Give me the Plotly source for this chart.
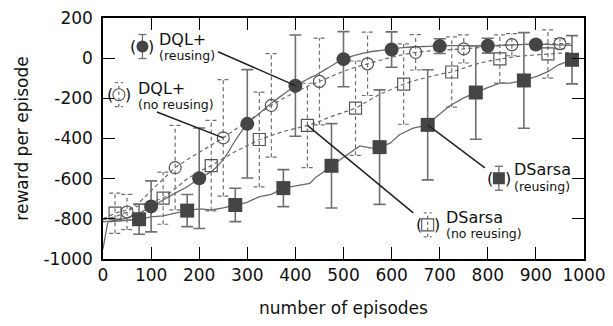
import plotly.graph_objects as go

# ---------------- data ----------------
# DQL+ (reusing): filled circles, solid error bars
dqlr_x = [100, 200, 300, 400, 500, 600, 700, 800, 900]
dqlr_y = [-738, -598, -327, -137, -5, 43, 60, 62, 68]
dqlr_e = [127, 250, 270, 252, 137, 88, 37, 37, 15]

# DQL+ (no reusing): open circles, dashed error bars
dqln_x = [50, 150, 250, 350, 450, 550, 650, 750, 850, 950]
dqln_y = [-766, -545, -397, -235, -116, -28, 29, 46, 67, 72]
dqln_e = [88, 210, 290, 258, 216, 158, 88, 70, 55, 25]

# DSarsa (reusing): filled squares, solid error bars
dsr_x = [75, 175, 275, 375, 475, 575, 675, 775, 875, 975]
dsr_y = [-802, -759, -731, -647, -536, -443, -332, -171, -111, -8]
dsr_e = [75, 80, 83, 92, 210, 285, 274, 233, 238, 120]

# DSarsa (no reusing): open squares, dashed error bars
dsn_x = [25, 125, 225, 325, 425, 525, 625, 725, 825, 925]
dsn_y = [-772, -697, -535, -405, -335, -249, -129, -69, -4, 21]
dsn_e = [100, 130, 225, 236, 210, 235, 200, 175, 120, 120]

# smoothed learning curves
dqlr_cx = [0, 25, 50, 75, 100, 125, 150, 175, 200, 225, 250, 275, 300, 325, 350, 375,
           400, 425, 450, 475, 500, 525, 550, 575, 600, 625, 650, 675, 700, 750, 800,
           850, 900, 950, 975]
dqlr_cy = [-815, -808, -795, -772, -740, -706, -672, -640, -598, -565, -505, -410, -327,
           -275, -225, -180, -137, -105, -74, -38, -4, 15, 29, 38, 45, 52, 56, 59, 62, 62,
           62, 66, 70, 66, 64]

dqln_cx = [0, 25, 50, 75, 100, 125, 150, 175, 200, 225, 250, 275, 300, 325, 350, 375,
           400, 425, 450, 475, 500, 525, 550, 575, 600, 625, 650, 675, 700, 725, 750,
           800, 850, 900, 950, 975]
dqln_cy = [-805, -790, -766, -720, -660, -600, -545, -505, -470, -435, -397, -355, -315,
           -275, -235, -200, -170, -140, -116, -90, -65, -45, -28, -12, 5, 18, 29, 35, 40,
           43, 46, 55, 67, 70, 72, 73]

dsr_cx = [0, 10, 25, 50, 75, 100, 125, 150, 175, 200, 225, 250, 275, 298, 326, 350, 375,
          410, 430, 444, 455, 475, 493, 514, 534, 558, 575, 597, 617, 645, 675, 694, 721,
          749, 775, 797, 825, 846, 875, 902, 926, 947, 975, 988]
dsr_cy = [-950, -815, -812, -808, -802, -790, -785, -772, -759, -750, -756, -745, -731,
          -719, -689, -678, -647, -631, -623, -590, -573, -536, -506, -473, -437, -448,
          -443, -423, -380, -348, -332, -290, -237, -199, -171, -149, -124, -124, -111,
          -91, -66, -33, -8, 0]

dsn_cx = [0, 25, 50, 75, 100, 125, 150, 175, 200, 225, 250, 275, 300, 325, 350, 375, 400,
          425, 450, 475, 500, 525, 550, 575, 600, 625, 650, 675, 700, 725, 750, 775, 800,
          825, 850, 875, 900, 925, 950, 975]
dsn_cy = [-800, -772, -755, -735, -715, -697, -650, -600, -565, -535, -500, -465, -435,
          -405, -385, -365, -350, -335, -315, -290, -270, -249, -215, -180, -155, -129,
          -110, -95, -80, -69, -50, -30, -15, -4, 5, 12, 17, 21, 25, 28]

x_ticks = [0, 100, 200, 300, 400, 500, 600, 700, 800, 900, 1000]
x_labels = ["0", "100", "200", "300", "400", "500", "600", "700", "800", "900", "1000"]
y_ticks = [-1000, -800, -600, -400, -200, 0, 200]
y_labels = ["-1000", "-800", "-600", "-400", "-200", "0", "200"]

# ---------------- style ----------------
FONT = "DejaVu Sans"
DARK = "#454545"
GREY = "#707070"
LINE = "#6a6a6a"
CAP = 12  # half-width of dashed caps in data units (~6 px)

fig = go.Figure()


def dashed_err(xs, ys, es):
    px, py = [], []
    for x, y, e in zip(xs, ys, es):
        px += [x, x, None, x - CAP, x + CAP, None, x - CAP, x + CAP, None]
        py += [y - e, y + e, None, y + e, y + e, None, y - e, y - e, None]
    return px, py


# curves
fig.add_trace(go.Scatter(x=dsr_cx, y=dsr_cy, mode="lines",
                         line=dict(color=LINE, width=1.3), hoverinfo="skip"))
fig.add_trace(go.Scatter(x=dqlr_cx, y=dqlr_cy, mode="lines", line_shape="spline",
                         line=dict(color=LINE, width=1.3), hoverinfo="skip"))
fig.add_trace(go.Scatter(x=dsn_cx, y=dsn_cy, mode="lines",
                         line=dict(color=LINE, width=1.2, dash="4px,3px"), hoverinfo="skip"))
fig.add_trace(go.Scatter(x=dqln_cx, y=dqln_cy, mode="lines",
                         line=dict(color=LINE, width=1.2, dash="4px,3px"), hoverinfo="skip"))

# dashed error bars
for xs, ys, es in [(dsn_x, dsn_y, dsn_e), (dqln_x, dqln_y, dqln_e)]:
    ex, ey = dashed_err(xs, ys, es)
    fig.add_trace(go.Scatter(x=ex, y=ey, mode="lines",
                             line=dict(color=GREY, width=1.2, dash="4px,3px"), hoverinfo="skip"))

# open markers
fig.add_trace(go.Scatter(x=dsn_x, y=dsn_y, mode="markers",
                         marker=dict(symbol="square-open", size=12, color="#555",
                                     line=dict(width=1.2, color="#555"))))
fig.add_trace(go.Scatter(x=dqln_x, y=dqln_y, mode="markers",
                         marker=dict(symbol="circle-open", size=12, color="#555",
                                     line=dict(width=1.2, color="#555"))))

# filled markers with solid error bars
fig.add_trace(go.Scatter(x=dsr_x, y=dsr_y, mode="markers",
                         error_y=dict(type="data", array=dsr_e, color=GREY, thickness=1.6, width=6),
                         marker=dict(symbol="square", size=14, color=DARK)))
fig.add_trace(go.Scatter(x=dqlr_x, y=dqlr_y, mode="markers",
                         error_y=dict(type="data", array=dqlr_e, color=GREY, thickness=1.6, width=6),
                         marker=dict(symbol="circle", size=14, color=DARK)))

# ---------------- labels ----------------
shapes = []
annotations = []

leaders = [
    (dqlr_x[3], dqlr_y[3], 239, 32),
    (dqln_x[2], dqln_y[2], 112, -268),
    (dsr_x[6], dsr_y[6], 794, -546),
    (dsn_x[4], dsn_y[4], 645, -770),
]
for x0, y0, x1, y1 in leaders:
    shapes.append(dict(type="line", xref="x", yref="y", x0=x0, y0=y0, x1=x1, y1=y1,
                       line=dict(color="#222", width=1.5), layer="above"))

labels = [
    # key x, key y, kind, filled, name, sub, text x, name y, sub y
    (82, 58, "circle", True, "DQL+", "(reusing)", 114, 94, 15),
    (33, -182, "circle", False, "DQL+", "(no reusing)", 71, -153, -232),
    (823, -598, "rect", True, "DSarsa", "(reusing)", 852, -554, -638),
    (675, -830, "rect", False, "DSarsa", "(no reusing)", 711, -791, -871),
]
for kx, ky, kind, filled, name, sub, tx, ny, sy in labels:
    dash = "solid" if filled else "dot"
    col = GREY
    shapes.append(dict(type="line", xref="x", yref="y", xsizemode="pixel", ysizemode="pixel",
                       xanchor=kx, yanchor=ky, x0=0, x1=0, y0=-12, y1=12,
                       line=dict(color=col, width=1.3, dash=dash)))
    for yy in (-12, 12):
        shapes.append(dict(type="line", xref="x", yref="y", xsizemode="pixel", ysizemode="pixel",
                           xanchor=kx, yanchor=ky, x0=-4, x1=4, y0=yy, y1=yy,
                           line=dict(color=col, width=1.3, dash=dash)))
    r = 6
    shapes.append(dict(type=kind, xref="x", yref="y", xsizemode="pixel", ysizemode="pixel",
                       xanchor=kx, yanchor=ky, x0=-r, x1=r, y0=-r, y1=r,
                       fillcolor=DARK if filled else "rgba(0,0,0,0)",
                       line=dict(color=DARK if filled else "#555", width=0 if filled else 1.1)))
    annotations.append(dict(x=kx, y=ky, xref="x", yref="y", text="(", showarrow=False,
                            xshift=-9, borderpad=0,
                            font=dict(family=FONT, size=16, color="#111")))
    annotations.append(dict(x=kx, y=ky, xref="x", yref="y", text=")", showarrow=False,
                            xshift=9, borderpad=0,
                            font=dict(family=FONT, size=16, color="#111")))
    annotations.append(dict(x=tx, y=ny, xref="x", yref="y", text=name, showarrow=False,
                            xanchor="left", borderpad=0,
                            font=dict(family=FONT, size=16, color="#111")))
    annotations.append(dict(x=tx, y=sy, xref="x", yref="y", text=sub, showarrow=False,
                            xanchor="left", borderpad=0,
                            font=dict(family=FONT, size=12.5, color="#111")))

axis_common = dict(showgrid=False, zeroline=False, showline=True, linecolor="#000",
                   linewidth=1.5, mirror="ticks", ticks="inside", ticklen=12,
                   tickwidth=1.3, tickcolor="#000", automargin=False,
                   ticklabeloverflow="allow",
                   tickfont=dict(family=FONT, size=17, color="#111"))

# the page body has an 8px margin, so the figure is 8px smaller and margins shifted
fig.update_layout(
    width=605, height=318,
    margin=dict(l=95, r=29, t=10, b=67),
    paper_bgcolor="white", plot_bgcolor="white",
    showlegend=False,
    shapes=shapes, annotations=annotations,
    xaxis=dict(range=[0, 1000], tickvals=x_ticks, ticktext=x_labels, ticklabelstandoff=0,
               title=dict(text="number of episodes", standoff=18,
                          font=dict(family=FONT, size=17, color="#111")),
               **axis_common),
    yaxis=dict(range=[-1000, 200], tickvals=y_ticks, ticktext=y_labels, ticklabelstandoff=5,
               title=dict(text="reward per episode", standoff=10,
                          font=dict(family=FONT, size=17, color="#111")),
               **axis_common),
)

fig.write_html("out.html")
